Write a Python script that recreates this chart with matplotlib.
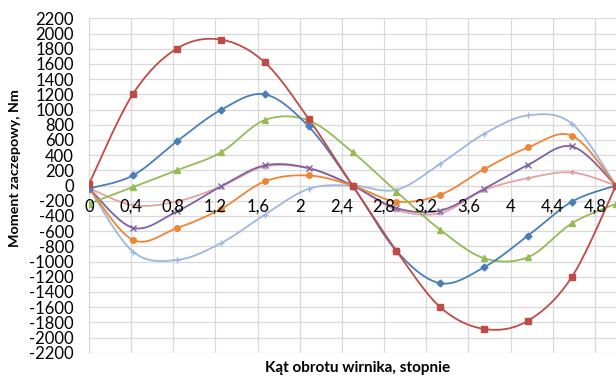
import numpy as np
import matplotlib
matplotlib.use("Agg")
import matplotlib.pyplot as plt
import matplotlib.transforms as mtransforms
from matplotlib.ticker import FixedLocator, FuncFormatter

plt.rcParams['font.family'] = ['Lato', 'DejaVu Sans']

# data
angle = [0, 5/12, 10/12, 15/12, 20/12, 25/12, 30/12, 35/12, 40/12, 45/12, 50/12, 55/12, 5.0]
s_blue = [-40, 132, 580, 993, 1199, 777, 0, -860, -1286, -1075, -659, -211, 0]
s_red = [20, 1204, 1801, 1920, 1621, 879, 0, -860, -1602, -1888, -1778, -1199, 0]
s_green = [-240, -20, 200, 435, 860, 856, 440, -79, -584, -957, -943, -496, -240]
s_orange = [-35, -716, -562, -310, 53, 132, 0, -211, -122, 216, 501, 655, 0]
s_purple = [-35, -557, -342, -13, 264, 229, 0, -298, -329, -44, 272, 514, 0]
s_pink = [-35, -260, -210, -15, 250, 225, 0, -320, -364, -60, 97, 172, 0]
s_lblue = [-35, -870, -980, -760, -386, -44, 0, -57, 286, 681, 923, 813, 0]

x_ticks = [0, 0.4, 0.8, 1.2, 1.6, 2.0, 2.4, 2.8, 3.2, 3.6, 4.0, 4.4, 4.8]
y_ticks = list(range(-2200, 2201, 200))


def smooth(x, y, n=30):
    x = np.asarray(x, float)
    y = np.asarray(y, float)
    P = np.column_stack([x, y])
    out = []
    for i in range(len(P) - 1):
        p0 = P[i - 1] if i > 0 else P[i]
        p1 = P[i]
        p2 = P[i + 1]
        p3 = P[i + 2] if i + 2 < len(P) else P[i + 1]
        c1 = p1 + (p2 - p0) / 6.0
        c2 = p2 - (p3 - p1) / 6.0
        t = np.linspace(0, 1, n)[:, None]
        seg = ((1 - t) ** 3) * p1 + 3 * ((1 - t) ** 2) * t * c1 + 3 * (1 - t) * t ** 2 * c2 + t ** 3 * p2
        out.append(seg if i == 0 else seg[1:])
    pts = np.vstack(out)
    return pts[:, 0], pts[:, 1]


fig = plt.figure(figsize=(6.16, 3.78), dpi=100)
ax = fig.add_axes([89/616, 1 - 352.7/378, (616 - 89)/616, (352.7 - 18.3)/378])

series = [
    (s_lblue, '#9DB8E0', '+', 5),
    (s_pink, '#E3A3A2', '*', 3),
    (s_purple, '#7E62A2', 'x', 4),
    (s_orange, '#EF8535', 'o', 4),
    (s_green, '#96BB55', '^', 4.5),
    (s_blue, '#4A7EBB', 'D', 3.5),
    (s_red, '#BE4B48', 's', 4.5),
]
for vals, col, mk, ms in series:
    sx, sy = smooth(angle, vals)
    ax.plot(sx, sy, color=col, lw=1.3, zorder=3)
    ax.plot(angle, vals, ls='none', marker=mk, color=col, ms=ms, mew=1.0, zorder=4)

ax.set_xlim(0, 5.0)
ax.set_ylim(-2200, 2200)
ax.xaxis.set_major_locator(FixedLocator(x_ticks))
ax.yaxis.set_major_locator(FixedLocator(y_ticks))
ax.yaxis.set_major_formatter(FuncFormatter(lambda v, p: '%d' % v))
ax.set_xticklabels([])
ax.grid(True, color='#D9D9D9', lw=0.9, zorder=0)
ax.set_axisbelow(True)

for s in ['top', 'right']:
    ax.spines[s].set_visible(False)
ax.spines['left'].set_color('#D9D9D9')
ax.spines['bottom'].set_position(('data', 0))
ax.spines['bottom'].set_color('#D9D9D9')
ax.tick_params(axis='both', length=0, labelsize=12, colors='#000000')
ax.tick_params(axis='y', pad=11)

# x tick labels placed below the zero line (axis crosses at 0)
off = mtransforms.offset_copy(ax.transData, fig=fig, x=0, y=-21.5, units='dots')
for xv in x_ticks:
    ax.text(xv, 0, ('%g' % xv).replace('.', ','), transform=off, ha='center', va='center',
            fontsize=12, zorder=5)

fig.text(0.024, 1 - 168/378, 'Moment zaczepowy, Nm', rotation=90, ha='center', va='center',
         fontsize=10.3, fontweight='bold')
fig.text(358/616, 1 - 368/378, 'Kąt obrotu wirnika, stopnie', ha='center', va='center',
         fontsize=11, fontweight='bold')

fig.savefig('out.png', dpi=100)
